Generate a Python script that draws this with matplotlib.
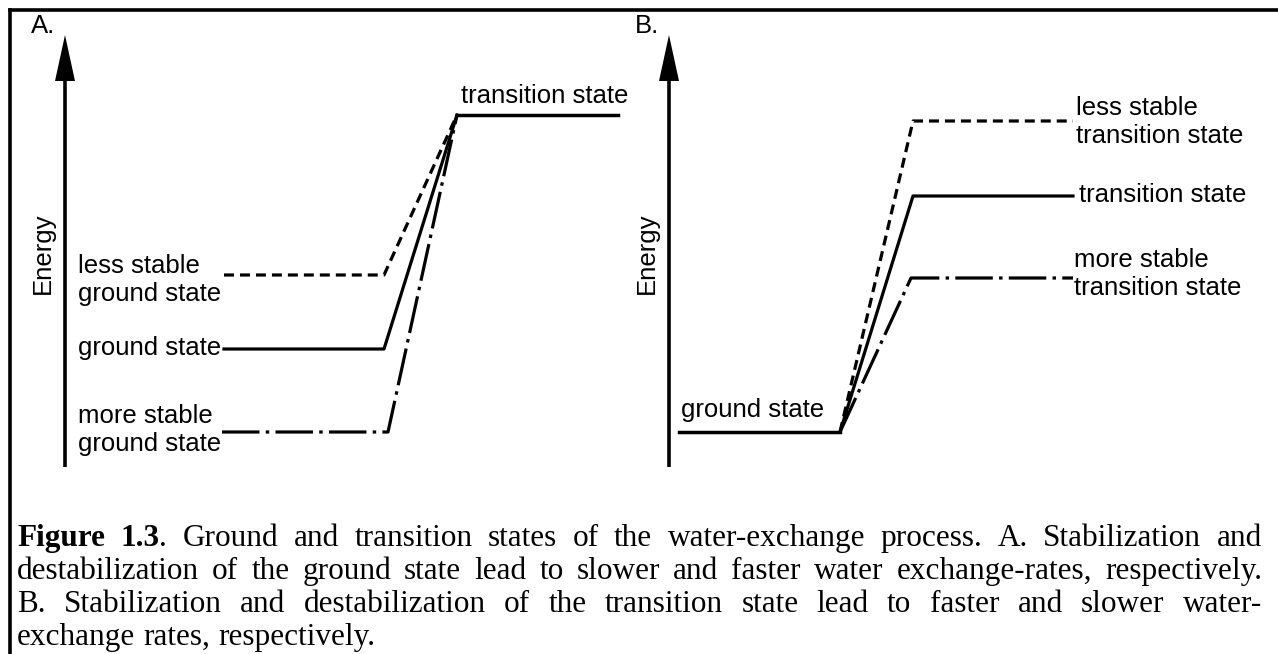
import matplotlib
matplotlib.use("Agg")
import matplotlib.pyplot as plt

plt.rcParams['lines.scale_dashes'] = False

# ---- data (figure pixels, y grows downward) ----
# panel A: three ground states rising to one transition state
A_GS_NAMES = ["less stable\nground state", "ground state", "more stable\nground state"]
A_GS_Y = [275, 349, 432]
A_GS_X0 = [224, 224, 222]
A_GS_X1 = [384, 384, 388]
A_TS_Y = 115
A_TS_X = [457, 618]

# panel B: one ground state rising to three transition states
B_TS_NAMES = ["less stable\ntransition state", "transition state", "more stable\ntransition state"]
B_TS_Y = [121, 196, 278]
B_TS_X0 = [913, 913, 911]
B_TS_X1 = [1073, 1073, 1073]
B_GS_Y = 432
B_GS_X = [679, 840]

STYLES = [(0, (7.2, 4.3)), '-', (0, (27, 4.5, 2.5, 4.5))]

CAPTION = [
    "Figure 1.3. Ground and transition states of the water-exchange process. A. Stabilization and",
    "destabilization of the ground state lead to slower and faster water exchange-rates, respectively.",
    "B. Stabilization and destabilization of the transition state lead to faster and slower water-",
    "exchange rates, respectively.",
]
CAP_BASE = [546, 579, 612, 645]

SANS = 'Liberation Sans'
SERIF = 'Liberation Serif'
FS = 18.5
CFS = 22.5

fig = plt.figure(figsize=(12.78, 6.54), dpi=100)
ax = fig.add_axes([0, 0, 1, 1])
ax.set_xlim(0, 1278); ax.set_ylim(654, 0); ax.axis('off')

# frame (right and bottom edges are cut off in the original)
ax.plot([9.5, 1278], [9.5, 9.5], color='k', lw=2.6, solid_capstyle='projecting')
ax.plot([9.5, 9.5], [9.5, 654], color='k', lw=2.6, solid_capstyle='projecting')

# axes arrows + labels
for xa, lab in [(65, "A."), (669, "B.")]:
    ax.arrow(xa, 467, 0, -432, width=3.6, head_width=20, head_length=46,
             length_includes_head=True, color='k', lw=0)
    ax.text(xa - 34, 26, lab, fontsize=FS, family=SANS, va='center', ha='left')
    ax.text(xa - 22, 253, "Energy", fontsize=FS, family=SANS, rotation=90,
            va='center', ha='center')

# panel A
for y, x0, x1, ls in zip(A_GS_Y, A_GS_X0, A_GS_X1, STYLES):
    ax.plot([x0, x1, A_TS_X[0]], [y, y, A_TS_Y], color='k', lw=2.3, ls=ls)
ax.plot(A_TS_X, [A_TS_Y, A_TS_Y], color='k', lw=2.5)
ax.text(461, 96, "transition state", fontsize=FS, family=SANS, va='center')
ax.text(78, 280, A_GS_NAMES[0], fontsize=FS, family=SANS, va='center', linespacing=1.25)
ax.text(78, 348, A_GS_NAMES[1], fontsize=FS, family=SANS, va='center')
ax.text(78, 430, A_GS_NAMES[2], fontsize=FS, family=SANS, va='center', linespacing=1.25)

# panel B
ax.plot(B_GS_X, [B_GS_Y, B_GS_Y], color='k', lw=2.5)
for y, x0, x1, ls in zip(B_TS_Y, B_TS_X0, B_TS_X1, STYLES):
    ax.plot([B_GS_X[1], x0, x1], [B_GS_Y, y, y], color='k', lw=2.3, ls=ls)
ax.text(681, 410, "ground state", fontsize=FS, family=SANS, va='center')
ax.text(1076, 122, B_TS_NAMES[0], fontsize=FS, family=SANS, va='center', linespacing=1.25)
ax.text(1079, 195, B_TS_NAMES[1], fontsize=FS, family=SANS, va='center')
ax.text(1074, 274, B_TS_NAMES[2], fontsize=FS, family=SANS, va='center', linespacing=1.25)

# caption, justified by hand
renderer = fig.canvas.get_renderer()
XL, XR = 17, 1262


def put(x, y, s, weight='normal'):
    t = ax.text(x, y, s, fontsize=CFS, family=SERIF, weight=weight, va='baseline', ha='left')
    return t.get_window_extent(renderer).width


def width(s, weight='normal'):
    t = ax.text(0, 0, s, fontsize=CFS, family=SERIF, weight=weight)
    w = t.get_window_extent(renderer).width
    t.remove()
    return w


for i, (line, yb) in enumerate(zip(CAPTION, CAP_BASE)):
    words = line.split(' ')
    pieces = []
    for j, w in enumerate(words):
        if i == 0 and j == 0:
            pieces.append([(w, 'bold')])
        elif i == 0 and j == 1:
            pieces.append([(w[:-1], 'bold'), (w[-1], 'normal')])
        else:
            pieces.append([(w, 'normal')])
    widths = [sum(width(s, wt) for s, wt in p) for p in pieces]
    if i < len(CAPTION) - 1:
        gap = (XR - XL - sum(widths)) / (len(pieces) - 1)
    else:
        gap = width('a b') - width('ab')
    x = XL
    for p, w in zip(pieces, widths):
        xx = x
        for s, wt in p:
            xx += put(xx, yb, s, wt)
        x += w + gap

fig.savefig("out.png", dpi=100)
